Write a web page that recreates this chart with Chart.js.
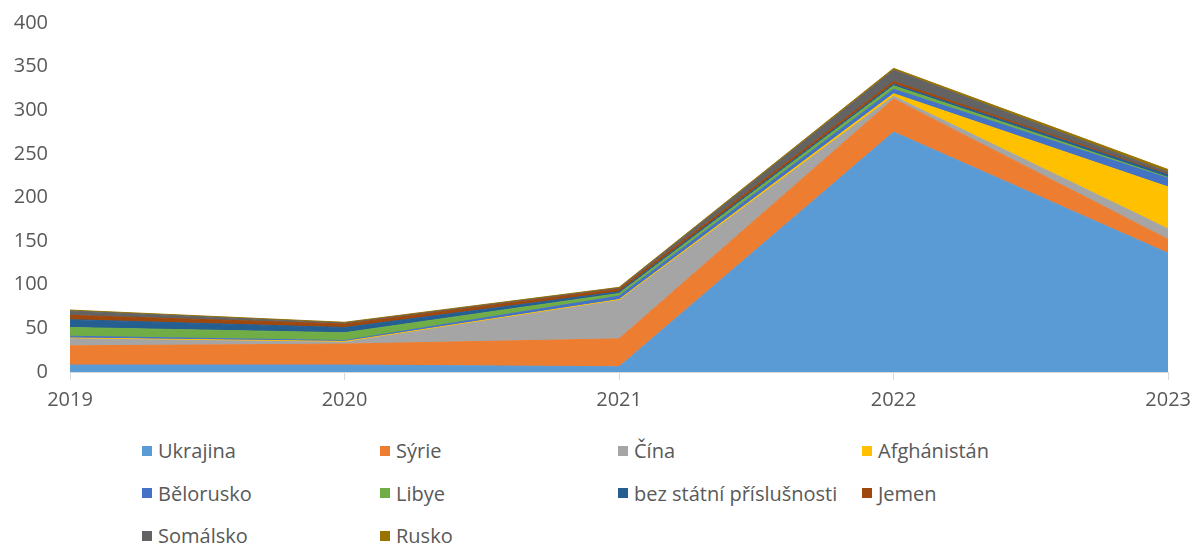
<!DOCTYPE html>
<html>
<head>
<meta charset="utf-8">
<script src="https://cdn.jsdelivr.net/npm/chart.js@4.4.1/dist/chart.umd.min.js"></script>
<style>
  html, body { overflow: hidden; }
  body { margin: 0; background: #fff; font-family: "Open Sans", sans-serif; }
  #wrap { position: relative; width: 1199px; height: 423px; margin-top: -3px; }
  #legend {
    position: absolute; left: 142px; top: 438px;
    display: grid; grid-template-columns: 238px 238px 244px 238px;
    row-gap: 17.5px; color: #595959; font-size: 20px;
  }
  .item { display: flex; align-items: center; height: 25px; white-space: nowrap; }
  .box { width: 10px; height: 10px; margin-right: 6px; }
</style>
</head>
<body>
<div id="wrap"><canvas id="myChart"></canvas></div>
<div id="legend"></div>
<script>
const years = ['2019', '2020', '2021', '2022', '2023'];
const countries = ['Ukrajina', 'Sýrie', 'Čína', 'Afghánistán', 'Bělorusko', 'Libye',
  'bez státní příslušnosti', 'Jemen', 'Somálsko', 'Rusko'];
const colors = ['#5B9BD5', '#ED7D31', '#A5A5A5', '#FFC000', '#4472C4', '#70AD47',
  '#255E91', '#9E480E', '#636363', '#997300'];

const ukrajina = [8, 8, 6, 275, 136];
const syrie = [22, 24, 32, 38, 16];
const cina = [8, 2, 44, 3, 12];
const afghanistan = [1, 1, 1, 3, 48];
const belorusko = [2, 1, 4, 5, 10];
const libye = [10, 9, 3, 4, 1];
const bezStatni = [9, 6, 2, 2, 3];
const jemen = [5, 4, 3, 3, 1];
const somalsko = [5, 1, 1, 13, 2];
const rusko = [1, 1, 1, 2, 3];

const series = [ukrajina, syrie, cina, afghanistan, belorusko, libye, bezStatni, jemen, somalsko, rusko];

let datasets = [];
for (let i = 0; i < series.length; i++) {
    datasets.push({
        label: countries[i],
        data: series[i],
        backgroundColor: colors[i],
        borderColor: colors[i],
        borderWidth: 1,
        pointRadius: 0,
        fill: i === 0 ? 'origin' : '-1',
        tension: 0
    });
}

let ctx = document.getElementById('myChart').getContext('2d');
let chart = new Chart(ctx, {
    type: 'line',
    data: { labels: years, datasets: datasets },
    options: {
        responsive: true,
        maintainAspectRatio: false,
        animation: false,
        layout: { padding: { left: 0, right: 22, top: 6, bottom: 0 } },
        plugins: { legend: { display: false }, tooltip: { enabled: false } },
        scales: {
            x: {
                offset: false,
                grid: { display: true, drawOnChartArea: false, color: '#d9d9d9', tickLength: 8 },
                border: { color: '#d9d9d9' },
                ticks: { color: '#595959', font: { family: 'Open Sans', size: 20 }, padding: 8, maxRotation: 0 }
            },
            y: {
                stacked: true,
                min: 0, max: 400,
                grid: { display: false },
                border: { display: false },
                ticks: { stepSize: 50, color: '#595959', font: { family: 'Open Sans', size: 20 }, padding: 14 },
                afterFit: function (axis) { axis.width = 70; }
            }
        }
    }
});

// legend in a 4 column grid like the original
const legend = document.getElementById('legend');
countries.forEach((name, i) => {
    const item = document.createElement('div');
    item.className = 'item';
    const box = document.createElement('span');
    box.className = 'box';
    box.style.background = colors[i];
    item.appendChild(box);
    item.appendChild(document.createTextNode(name));
    legend.appendChild(item);
});
</script>
</body>
</html>
